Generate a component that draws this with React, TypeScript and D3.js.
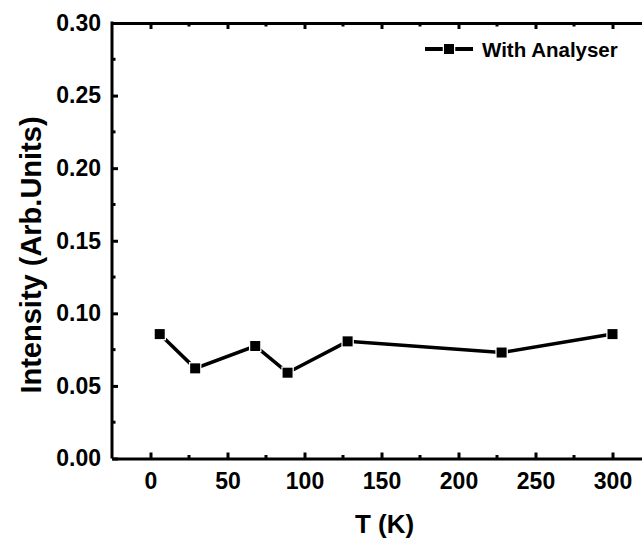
import React, {useEffect, useRef} from 'react'
import * as d3 from 'd3'

// temperature (K) and intensity
const temps = [6, 29, 68, 89, 128, 228, 300]
const intensity = [0.0857, 0.0621, 0.0775, 0.0591, 0.0807, 0.073, 0.0857]
const seriesName = 'With Analyser'
const xTicks = [0, 50, 100, 150, 200, 250, 300]
const yTicks = [0, 0.05, 0.1, 0.15, 0.2, 0.25, 0.3]

const App = () => {
  const ref = useRef<SVGSVGElement>(null)

  useEffect(() => {
    const width = 642
    const height = 541
    const font = "'Liberation Sans', Arial, sans-serif"

    const x = d3.scaleLinear().domain([-25, 325]).range([112, 651])
    const y = d3.scaleLinear().domain([0, 0.3]).range([458.5, 23])

    const svg = d3.select(ref.current)
      .attr('viewBox', [0, 0, width, height])
      .attr('font-family', font)
      .attr('font-weight', 'bold')
    svg.selectAll('*').remove()

    const data = temps.map((t, i) => ({t, v: intensity[i]}))

    // axes (ticks point inward, like Origin)
    const bottom = svg.append('g')
      .attr('transform', `translate(0,${y(0)})`)
      .call(d3.axisBottom(x).tickValues(xTicks).tickSize(-6).tickSizeOuter(0).tickPadding(14).tickFormat(d3.format('d')))
    const top = svg.append('g')
      .attr('transform', `translate(0,${y(0.3)})`)
      .call(d3.axisTop(x).tickValues(xTicks).tickSize(-6).tickSizeOuter(0).tickFormat(() => ''))
    const left = svg.append('g')
      .attr('transform', `translate(${x(-25)},0)`)
      .call(d3.axisLeft(y).tickValues(yTicks).tickSize(-6).tickSizeOuter(0).tickPadding(11).tickFormat(d3.format('.2f')))

    // minor ticks
    const xMinor = d3.range(-25, 326, 25).filter(v => v % 50 !== 0 && v > -25)
    const yMinor = d3.range(0.025, 0.3, 0.05)
    bottom.append('g').selectAll('line').data(xMinor).join('line')
      .attr('x1', d => x(d)).attr('x2', d => x(d)).attr('y1', 0).attr('y2', -3.5)
    top.append('g').selectAll('line').data(xMinor).join('line')
      .attr('x1', d => x(d)).attr('x2', d => x(d)).attr('y1', 0).attr('y2', 3.5)
    left.append('g').selectAll('line').data(yMinor).join('line')
      .attr('y1', d => y(d)).attr('y2', d => y(d)).attr('x1', 0).attr('x2', 3.5)

    for (const g of [bottom, top, left]) {
      g.selectAll('.domain').attr('stroke', '#000').attr('stroke-width', 3)
      g.selectAll('line').attr('stroke', '#000').attr('stroke-width', 3)
      g.selectAll('text').attr('font-size', 23).attr('font-family', font).attr('font-weight', 'bold').attr('fill', '#000')
    }
    left.select('.domain').attr('d', `M0,${y(0)}V${y(0.3) - 1.5}`)

    // series
    svg.append('path')
      .datum(data)
      .attr('fill', 'none')
      .attr('stroke', '#000')
      .attr('stroke-width', 3.5)
      .attr('d', d3.line<any>().x(d => x(d.t)).y(d => y(d.v)))
    const ms = 10
    svg.append('g').selectAll('rect').data(data).join('rect')
      .attr('x', d => x(d.t) - ms / 2)
      .attr('y', d => y(d.v) - ms / 2)
      .attr('width', ms).attr('height', ms)
      .attr('fill', '#000')
      .attr('stroke', '#fff').attr('stroke-width', 2.5)
      .attr('paint-order', 'stroke')

    // legend
    const lg = svg.append('g').attr('transform', 'translate(425,49)')
    lg.append('line').attr('x1', 0).attr('x2', 48).attr('y1', 0).attr('y2', 0)
      .attr('stroke', '#000').attr('stroke-width', 4)
    lg.append('rect').attr('x', 24 - ms / 2).attr('y', -ms / 2).attr('width', ms).attr('height', ms)
      .attr('fill', '#000').attr('stroke', '#fff').attr('stroke-width', 2.5).attr('paint-order', 'stroke')
    lg.append('text').attr('x', 57).attr('y', 7.5).attr('font-size', 20.5).text(seriesName)

    // axis titles
    svg.append('text')
      .attr('x', x(150) + 3).attr('y', 533)
      .attr('text-anchor', 'middle').attr('font-size', 26)
      .text('T (K)')
    svg.append('text')
      .attr('transform', `translate(41,255) rotate(-90)`)
      .attr('text-anchor', 'middle').attr('font-size', 29)
      .text('Intensity (Arb.Units)')
  }, [])

  return <svg ref={ref} width={642} height={541}
    style={{position: 'absolute', left: 0, top: 0, background: '#fff'}} />
}

export default App
